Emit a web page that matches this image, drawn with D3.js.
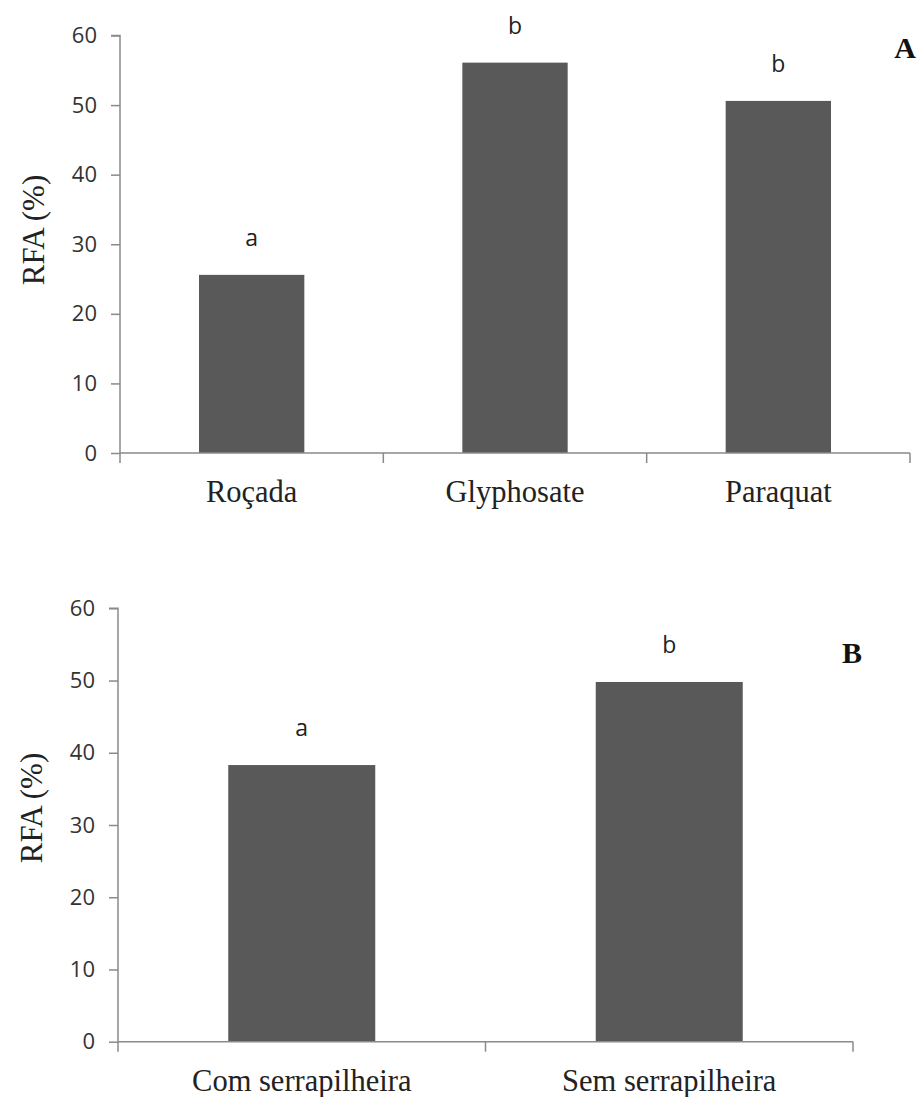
<!DOCTYPE html>
<html>
<head>
<meta charset="utf-8">
<script src="https://cdn.jsdelivr.net/npm/d3@7"></script>
<style>
  html, body { margin: 0; padding: 0; background: #fff; }
  svg { display: block; }
</style>
</head>
<body>
<svg id="chart" width="922" height="1097"></svg>
<script>
// Panel A: weed control treatment
const categoriesA = ["Roçada", "Glyphosate", "Paraquat"];
const valuesA = [25.6, 56.1, 50.6];
const lettersA = ["a", "b", "b"];

// Panel B: litter cover
const categoriesB = ["Com serrapilheira", "Sem serrapilheira"];
const valuesB = [38.3, 49.8];
const lettersB = ["a", "b"];

const yTicks = [0, 10, 20, 30, 40, 50, 60];
const yLabel = "RFA (%)";

const svg = d3.select("#chart");
const barColor = "#595959";
const axisColor = "#8a8a8a";
const sansFont = "'Open Sans', 'DejaVu Sans', sans-serif";
const serifFont = "'Liberation Serif', 'DejaVu Serif', serif";

function drawPanel(opts) {
  const { cats, vals, letters, left, right, top, bottom, tag, tagX, tagY, ylabX, ylabY } = opts;

  const y = d3.scaleLinear().domain([0, 60]).range([bottom, top]);
  const x = d3.scaleBand().domain(cats).range([left, right])
    .paddingInner(0.6).paddingOuter(0.3);
  const step = x.step();

  const g = svg.append("g");

  // bars
  g.selectAll("rect.bar").data(cats).join("rect")
    .attr("class", "bar")
    .attr("x", d => x(d))
    .attr("width", x.bandwidth())
    .attr("y", (d, i) => y(vals[i]))
    .attr("height", (d, i) => y(0) - y(vals[i]))
    .attr("fill", barColor);

  // y axis
  const yAxis = d3.axisLeft(y).tickValues(yTicks).tickSize(9).tickPadding(14);
  const ya = g.append("g").attr("transform", `translate(${left},0)`).call(yAxis);
  ya.select(".domain").attr("stroke", axisColor).attr("stroke-width", 1.5)
    .attr("d", `M-9,${y(60)}H0V${y(0)}`);
  ya.selectAll(".tick line").attr("stroke", axisColor).attr("stroke-width", 1.5);
  ya.selectAll(".tick text")
    .attr("font-family", sansFont).attr("font-size", 22).attr("fill", "#333");

  // x axis baseline and category boundary ticks
  g.append("line")
    .attr("x1", left).attr("x2", right)
    .attr("y1", y(0)).attr("y2", y(0))
    .attr("stroke", axisColor).attr("stroke-width", 1.5);
  const bounds = d3.range(cats.length + 1).map(i => left + i * step);
  g.selectAll("line.xtick").data(bounds).join("line")
    .attr("class", "xtick")
    .attr("x1", d => d).attr("x2", d => d)
    .attr("y1", y(0)).attr("y2", y(0) + 10)
    .attr("stroke", axisColor).attr("stroke-width", 1.5);

  // category labels
  g.selectAll("text.cat").data(cats).join("text")
    .attr("class", "cat")
    .attr("x", d => x(d) + x.bandwidth() / 2)
    .attr("y", y(0) + 49)
    .attr("text-anchor", "middle")
    .attr("font-family", serifFont).attr("font-size", 30.5).attr("fill", "#222")
    .text(d => d);

  // significance letters
  g.selectAll("text.letter").data(cats).join("text")
    .attr("class", "letter")
    .attr("x", d => x(d) + x.bandwidth() / 2)
    .attr("y", (d, i) => y(vals[i]) - 29)
    .attr("text-anchor", "middle")
    .attr("font-family", sansFont).attr("font-size", 23).attr("fill", "#222")
    .text((d, i) => letters[i]);

  // y axis title
  g.append("text")
    .attr("transform", `translate(${ylabX},${ylabY}) rotate(-90)`)
    .attr("text-anchor", "middle")
    .attr("dominant-baseline", "central")
    .attr("font-family", serifFont).attr("font-size", 31).attr("fill", "#222")
    .text(yLabel);

  // panel tag
  g.append("text")
    .attr("x", tagX).attr("y", tagY)
    .attr("text-anchor", "middle")
    .attr("dominant-baseline", "central")
    .attr("font-family", serifFont).attr("font-size", 30).attr("font-weight", "bold")
    .attr("fill", "#111")
    .text(tag);
}

drawPanel({
  cats: categoriesA, vals: valuesA, letters: lettersA,
  left: 120, right: 910, top: 35.5, bottom: 453,
  tag: "A", tagX: 905, tagY: 47, ylabX: 33, ylabY: 230
});

drawPanel({
  cats: categoriesB, vals: valuesB, letters: lettersB,
  left: 118, right: 853, top: 608.3, bottom: 1041.7,
  tag: "B", tagX: 852, tagY: 652, ylabX: 31, ylabY: 808
});
</script>
</body>
</html>
